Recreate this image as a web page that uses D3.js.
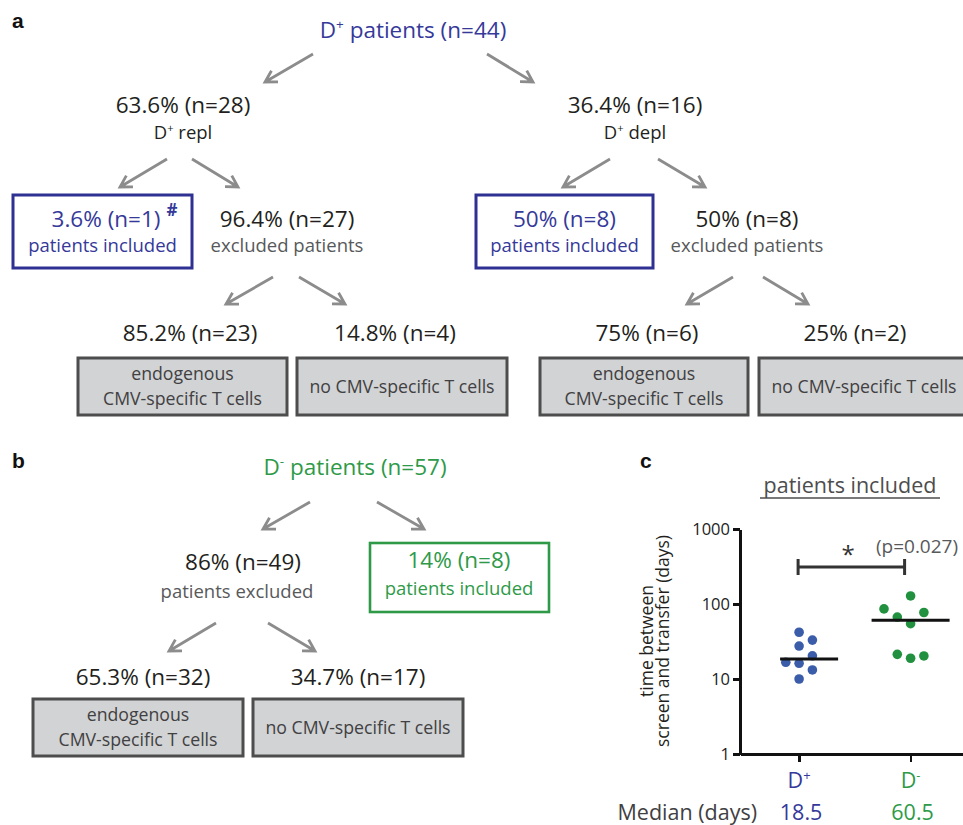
<!DOCTYPE html>
<html>
<head>
<meta charset="utf-8">
<title>CMV patients flow</title>
<script src="https://d3js.org/d3.v7.min.js"></script>
<style>
	body { margin: 0; background: #fff; }
	svg text { font-family: "Open Sans", sans-serif; }
	.panel { font-family: "Liberation Sans", Arial, sans-serif !important; font-weight: bold; font-size: 21px; fill: #111; }
	.arrow { fill: none; stroke: #8c8c8c; stroke-width: 2.8; }
	.axis path, .axis line { stroke: #111; stroke-width: 2.6; shape-rendering: crispEdges; }
	.axis text { font-size: 16.5px; fill: #222; }
</style>
</head>
<body>
<script>
// ---- panel a: D+ patients
var aTotal = 44;
var aSplitName = ["repl", "depl"];
var aSplitPct = [63.6, 36.4], aSplitN = [28, 16];
var aInclPct = [3.6, 50], aInclN = [1, 8];
var aExclPct = [96.4, 50], aExclN = [27, 8];
var aEndoPct = [85.2, 75], aEndoN = [23, 6];
var aNoPct = [14.8, 25], aNoN = [4, 2];

// ---- panel b: D- patients
var bTotal = 57;
var bExclPct = 86, bExclN = 49;
var bInclPct = 14, bInclN = 8;
var bEndoPct = 65.3, bEndoN = 32;
var bNoPct = 34.7, bNoN = 17;

// ---- panel c: time between screen and transfer (days)
var cGroups = ["D+", "D-"];
var cDays = [[42, 33, 27.5, 20.4, 16.7, 16.2, 13.2, 10],
             [128, 86, 77, 67, 54.6, 21.3, 18.9, 20.3]];
var cJitter = [[0, 1, 0, 1, -1, 0, 1, 0],
               [0, -2, 1, -1, 0, -1, 0, 1]];
var cMedian = [18.5, 60.5];
var cTicks = [1, 10, 100, 1000];
var cPvalue = "(p=0.027)";

var black = "#231f20", grey = "#58595b", blue = "#35399a", boxBlue = "#2e3192", green = "#2e9a48";
var dotColor = ["#3a5ca9", "#22913f"];

var svg = d3.select("body").append("svg")
	.attr("width", 963)
	.attr("height", 825);

function fmt(p, n) { return p + "% (n=" + n + ")"; }

// text with "^x" superscripts
function rich(x, y, s, size, color, anchor) {
	var t = svg.append("text")
		.attr("x", x).attr("y", y)
		.attr("text-anchor", anchor || "middle")
		.style("font-size", size + "px")
		.style("fill", color);
	var parts = s.split(/\^(.)/);
	parts.forEach(function(p, i) {
		if (!p) return;
		var ts = t.append("tspan").text(p);
		if (i % 2 == 1) {
			ts.attr("dy", -size * 0.38).style("font-size", (size * 0.6) + "px");
		} else if (i > 0) {
			ts.attr("dy", size * 0.38);
		}
	});
	return t;
}

function arrow(x1, y1, x2, y2) {
	var a = Math.atan2(y2 - y1, x2 - x1), L = 13, h = Math.PI / 6;
	var d = "M" + x1 + "," + y1 + "L" + x2 + "," + y2 +
		"M" + (x2 - L * Math.cos(a - h)) + "," + (y2 - L * Math.sin(a - h)) +
		"L" + x2 + "," + y2 +
		"L" + (x2 - L * Math.cos(a + h)) + "," + (y2 - L * Math.sin(a + h));
	svg.append("path").attr("class", "arrow").attr("d", d);
}

function box(x, y, w, h, stroke, fill, sw) {
	svg.append("rect")
		.attr("x", x).attr("y", y).attr("width", w).attr("height", h)
		.style("fill", fill).style("stroke", stroke).style("stroke-width", sw);
}

// gray outcome box (endogenous / no CMV-specific T cells)
function outcome(x, y, w, h, lines) {
	box(x, y, w, h, "#4d4d4d", "#d1d3d4", 3);
	if (lines.length == 2) {
		rich(x + w / 2, y + 22, lines[0], 17.7, "#414042");
		rich(x + w / 2, y + 47, lines[1], 17.7, "#414042");
	} else {
		rich(x + w / 2, y + 35, lines[0], 17.7, "#414042");
	}
}

// ---------------- panel a
svg.append("text").attr("class", "panel").attr("x", 12).attr("y", 28).text("a");
rich(413, 38, "D^+ patients (n=" + aTotal + ")", 22.5, blue);
arrow(313, 54, 265, 82);
arrow(487, 54, 533, 82);

var splitX = [183, 635];
var inclBox = [[13, 195, 179, 73], [476, 195, 177, 73]];
var exclX = [287, 747];
var arrows2 = [[[167, 159, 120, 187], [192, 159, 238, 187]], [[610, 159, 563, 187], [658, 159, 705, 187]]];
var arrows3 = [[[273, 277, 226, 304], [299, 277, 345, 304]], [[733, 277, 687, 304], [763, 277, 808, 304]]];
var endoX = [190, 647], noX = [395, 855];
var endoBox = [[78, 358, 209, 57], [540, 358, 208, 57]];
var noBox = [[297, 358, 210, 57], [759, 358, 210, 57]];

aSplitName.forEach(function(name, i) {
	rich(splitX[i], 113, fmt(aSplitPct[i], aSplitN[i]), 22.5, black);
	rich(splitX[i], 139, "D^+ " + name, 18.5, black);
	arrows2[i].forEach(function(d) { arrow(d[0], d[1], d[2], d[3]); });

	var b = inclBox[i];
	box(b[0], b[1], b[2], b[3], boxBlue, "none", 3);
	var t1 = rich(b[0] + b[2] / 2, 227, fmt(aInclPct[i], aInclN[i]), 22.5, blue);
	if (i == 0) {
		t1.attr("x", 106);
		rich(172, 216, "#", 17, blue).style("font-weight", "bold");
	}
	rich(b[0] + b[2] / 2, 252, "patients included", 18.5, blue);

	rich(exclX[i], 227, fmt(aExclPct[i], aExclN[i]), 22.5, black);
	rich(exclX[i], 252, "excluded patients", 18.5, grey);
	arrows3[i].forEach(function(d) { arrow(d[0], d[1], d[2], d[3]); });

	rich(endoX[i], 341, fmt(aEndoPct[i], aEndoN[i]), 22.5, black);
	rich(noX[i], 341, fmt(aNoPct[i], aNoN[i]), 22.5, black);
	var e = endoBox[i], n = noBox[i];
	outcome(e[0], e[1], e[2], e[3], ["endogenous", "CMV-specific T cells"]);
	outcome(n[0], n[1], n[2], n[3], ["no CMV-specific T cells"]);
});

// ---------------- panel b
svg.append("text").attr("class", "panel").attr("x", 12).attr("y", 468).text("b");
rich(355, 475, "D^- patients (n=" + bTotal + ")", 22.5, green);
arrow(310, 502, 263, 529);
arrow(377, 502, 424, 529);
rich(243, 570, fmt(bExclPct, bExclN), 22.5, black);
rich(237, 598, "patients excluded", 18.5, grey);
box(370, 543, 179, 69, green, "none", 2.6);
rich(459, 568, fmt(bInclPct, bInclN), 22.5, green);
rich(459, 595, "patients included", 18.5, green);
arrow(216, 623, 169, 651);
arrow(268, 623, 315, 651);
rich(143, 685, fmt(bEndoPct, bEndoN), 22.5, black);
rich(358, 685, fmt(bNoPct, bNoN), 22.5, black);
outcome(33, 699, 210, 57, ["endogenous", "CMV-specific T cells"]);
outcome(253, 699, 210, 57, ["no CMV-specific T cells"]);

// ---------------- panel c
svg.append("text").attr("class", "panel").attr("x", 640).attr("y", 468).text("c");
rich(850, 493, "patients included", 21.5, "#4d4d4d");
svg.append("line").attr("x1", 760).attr("x2", 940).attr("y1", 498).attr("y2", 498)
	.style("stroke", "#4d4d4d").style("stroke-width", 1.3);

var y = d3.scaleLog().domain([1, 1000]).range([754, 529]);
var x = d3.scalePoint().domain(cGroups).range([740, 963]).padding(0.5).align(0.53);
var slot = 13.3;

svg.append("g").attr("class", "axis")
	.attr("transform", "translate(740,0)")
	.call(d3.axisLeft(y).tickValues(cTicks).tickFormat(d3.format("d")).tickSize(7).tickSizeOuter(0));
svg.append("g").attr("class", "axis")
	.attr("transform", "translate(0,754)")
	.call(d3.axisBottom(x).tickSize(8).tickSizeOuter(0).tickFormat(""));

// y label
var yl = svg.append("text")
	.attr("transform", "translate(0,641) rotate(-90)")
	.attr("text-anchor", "middle")
	.style("font-size", "17.5px").style("fill", black);
yl.append("tspan").attr("x", 0).attr("y", 653).text("time between");
yl.append("tspan").attr("x", 0).attr("y", 669).text("screen and transfer (days)");

cGroups.forEach(function(g, i) {
	svg.selectAll(".dot" + i)
		.data(cDays[i])
		.enter().append("circle")
		.attr("class", "dot" + i)
		.attr("cx", function(d, j) { return x(g) + cJitter[i][j] * slot; })
		.attr("cy", function(d) { return y(d); })
		.attr("r", 4.8)
		.style("fill", dotColor[i]);
});

// median bars
var medExtent = [[-19, 39], [-39, 39]];
svg.selectAll(".median")
	.data(cMedian)
	.enter().append("line")
	.attr("class", "median")
	.attr("x1", function(d, i) { return x(cGroups[i]) + medExtent[i][0]; })
	.attr("x2", function(d, i) { return x(cGroups[i]) + medExtent[i][1]; })
	.attr("y1", function(d) { return y(d); })
	.attr("y2", function(d) { return y(d); })
	.style("stroke", "#111").style("stroke-width", 3);

// significance bracket
var by = 567, bx1 = x("D+") - 1, bx2 = x("D-") - 6;
svg.append("path")
	.attr("d", "M" + bx1 + "," + by + "H" + bx2 + "M" + bx1 + "," + (by - 8) + "V" + (by + 8) + "M" + bx2 + "," + (by - 8) + "V" + (by + 8))
	.style("fill", "none").style("stroke", "#333").style("stroke-width", 3);
rich(848, 563, "*", 24, "#333");
rich(917, 553, cPvalue, 19, "#58595b");

// group labels and medians
var groupColor = [blue, green];
rich(x("D+"), 788, "D^+", 21.5, groupColor[0]);
rich(x("D-"), 788, "D^-", 21.5, groupColor[1]);
rich(757, 820, "Median (days)", 21.5, "#414042", "end");
cMedian.forEach(function(m, i) {
	rich(x(cGroups[i]) + 2, 820, String(m), 21.5, groupColor[i]);
});
</script>
</body>
</html>
